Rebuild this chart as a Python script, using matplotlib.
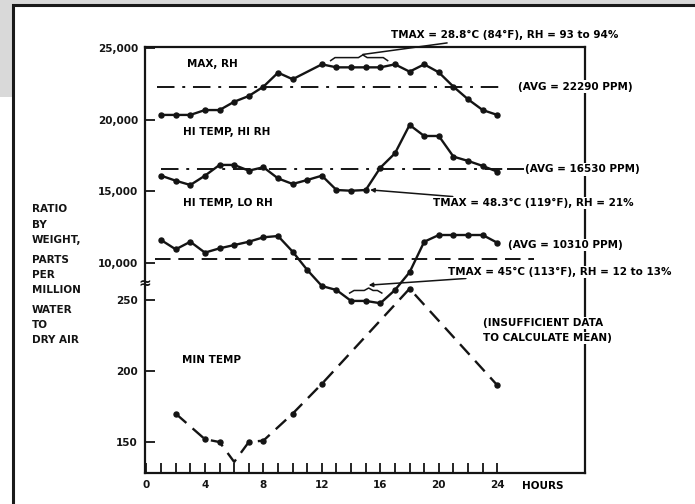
import matplotlib
matplotlib.use('Agg')
import matplotlib.pyplot as plt
from matplotlib.patches import Rectangle
from matplotlib.transforms import blended_transform_factory

plt.rcParams['font.family'] = ['DejaVu Sans']
plt.rcParams['font.weight'] = 'bold'
plt.rcParams['font.size'] = 7.5

INK = '#141414'

# ---- data (hours vs ppm) ----
max_rh_hours = [1, 2, 3, 4, 5, 6, 7, 8, 9, 10, 12, 13, 14, 15, 16, 17, 18, 19, 20, 21, 22, 23, 24]
max_rh_ppm = [20330, 20330, 20330, 20670, 20670, 21250, 21650, 22300, 23280, 22820, 23860, 23650,
              23650, 23650, 23650, 23860, 23350, 23860, 23300, 22300, 21420, 20670, 20330]

hi_rh_hours = list(range(1, 25))
hi_rh_ppm = [16090, 15740, 15440, 16090, 16840, 16840, 16440, 16680, 15900, 15510, 15790, 16090,
             15090, 15040, 15090, 16650, 17650, 19630, 18860, 18860, 17420, 17120, 16770, 16370]

lo_rh_hours = list(range(1, 25))
lo_rh_ppm = [11600, 10950, 11480, 10720, 11020, 11250, 11480, 11790, 11880, 10790, 9510, 8390,
             8110, 7350, 7350, 7190, 8110, 9350, 11480, 11950, 11950, 11950, 11950, 11410]

min_temp_hours = [2, 4, 5, 6, 7, 8, 10, 12, 18, 24]
min_temp_ppm = [170, 152, 150, 136, 150, 151, 170, 191, 258, 190]
min_temp_marked = [0, 1, 2, 4, 5, 6, 7, 8, 9]   # no dot where the dashes meet

avg_ppm = [22290, 16530, 10310]
avg_span = [(0.7, 24.6), (1.0, 24.7), (0.6, 26.5)]
avg_labels = ['(AVG = 22290 PPM)', '(AVG = 16530 PPM)', '(AVG = 10310 PPM)']
avg_label_pos = [(25.4, 22290), (25.9, 16530), (24.75, 11250)]

upper_ticks = [10000, 15000, 20000, 25000]
upper_ticklabels = ['10,000', '15,000', '20,000', '25,000']
lower_ticks = [150, 200, 250]
hour_ticks = list(range(0, 25))
hour_labels = [str(h) if h % 4 == 0 else '' for h in hour_ticks]

ylabel_lines = ['RATIO', 'BY', 'WEIGHT,', 'PARTS', 'PER', 'MILLION', 'WATER', 'TO', 'DRY AIR']
ylabel_px = [209, 225, 240, 260, 275, 290, 310, 325, 340]

W, H = 695, 504
fig = plt.figure(figsize=(W / 100, H / 100), dpi=100)
fig.patch.set_facecolor('white')

# scan background: grey band on top, white page with black edge
fig.patches.append(Rectangle((0, 1 - 97 / H), 1, 97 / H, transform=fig.transFigure,
                             fc='#d9d9d9', ec='none', zorder=-10))
fig.patches.append(Rectangle((13 / W, -0.05), 1.2, 1 - 5 / H + 0.05, transform=fig.transFigure,
                             fc='white', ec='#1a1a1a', lw=2.2, zorder=-9))

ax1 = fig.add_axes([145 / W, 31 / H, 440 / W, 426 / H])
ax1.set_facecolor('none')
ax2 = ax1.twinx()

ax1.set_xlim(-0.1, 30.0)
ax1.set_ylim(-4658, 25070)
ax2.set_ylim(128.2, 428.2)

for sp in ax1.spines.values():
    sp.set_linewidth(1.6)
    sp.set_color(INK)
for sp in ax2.spines.values():
    sp.set_visible(False)

# ---- curves ----
line_kw = dict(color=INK, lw=1.7, marker='o', ms=3.6, solid_joinstyle='round')
ax1.plot(max_rh_hours, max_rh_ppm, **line_kw)
ax1.plot(hi_rh_hours, hi_rh_ppm, **line_kw)
ax1.plot(lo_rh_hours, lo_rh_ppm, **line_kw)
ax2.plot(min_temp_hours, min_temp_ppm, color=INK, lw=1.7, ls=(0, (6, 3.5)),
         marker='o', ms=3.6, markevery=min_temp_marked)

avg_styles = [(0, (9, 4, 1.5, 4)), (0, (9, 4, 1.5, 4)), (0, (8, 4))]
for val, (x0, x1), st in zip(avg_ppm, avg_span, avg_styles):
    ax1.plot([x0, x1], [val, val], color=INK, lw=1.4, ls=st)
# the 16530 line runs solid into its label
ax1.plot([avg_span[1][1], avg_label_pos[1][0]], [avg_ppm[1], avg_ppm[1]], color=INK, lw=1.4)

box = dict(fc='white', ec='none', pad=1.0)
for lab, (x, y) in zip(avg_labels, avg_label_pos):
    ax1.text(x, y, lab, ha='left', va='center', bbox=box, zorder=4)

# curve names
ax1.text(2.8, 23880, 'MAX, RH', ha='left', va='center')
ax1.text(2.5, 19140, 'HI TEMP, HI RH', ha='left', va='center')
ax1.text(2.5, 14180, 'HI TEMP, LO RH', ha='left', va='center')
ax2.text(2.4, 208, 'MIN TEMP', ha='left', va='center')

ax1.text(23.0, 5810, '(INSUFFICIENT DATA', ha='left', va='center', bbox=box, zorder=4)
ax1.text(23.0, 4760, 'TO CALCULATE MEAN)', ha='left', va='center', bbox=box, zorder=4)

# TMAX notes with braces
brace_top_x = [12.6, 12.9, 14.5, 14.8, 15.1, 16.2, 16.5]
brace_top_y = [24120, 24330, 24330, 24520, 24330, 24330, 24120]
ax1.plot(brace_top_x, brace_top_y, color=INK, lw=1.1)
ax1.annotate('TMAX = 28.8°C (84°F), RH = 93 to 94%', xy=(14.8, 24550), xytext=(16.7, 25900),
             ha='left', va='center', annotation_clip=False,
             arrowprops=dict(arrowstyle='-', color=INK, lw=1.1, shrinkA=0, shrinkB=0))

ax1.annotate('TMAX = 48.3°C (119°F), RH = 21%', xy=(15.3, 15100), xytext=(19.6, 14180),
             ha='left', va='center', bbox=box, zorder=4,
             arrowprops=dict(arrowstyle='-|>', color=INK, lw=1.1, mutation_scale=6,
                             shrinkA=1, shrinkB=0))

brace_low_x = [13.9, 14.2, 14.9, 15.2, 15.5, 15.8, 16.1]
brace_low_y = [7900, 8080, 8080, 8250, 8080, 8080, 7900]
ax1.plot(brace_low_x, brace_low_y, color=INK, lw=1.1)
ax1.annotate('TMAX = 45°C (113°F), RH = 12 to 13%', xy=(15.2, 8450), xytext=(20.65, 9370),
             ha='left', va='center', bbox=box, zorder=4, annotation_clip=False,
             arrowprops=dict(arrowstyle='-|>', color=INK, lw=1.1, mutation_scale=6,
                             shrinkA=1, shrinkB=0))

# ---- ticks ----
ax1.set_xticks(hour_ticks)
ax1.set_xticklabels(hour_labels)
ax1.set_yticks(upper_ticks)
ax1.set_yticklabels(upper_ticklabels)
ax1.tick_params(axis='both', direction='in', length=7.5, width=1.3, color=INK,
                labelsize=7.5, labelcolor=INK)
ax1.tick_params(axis='x', pad=5)
ax1.tick_params(axis='y', pad=5)

ax2.yaxis.set_ticks_position('left')
ax2.yaxis.set_label_position('left')
ax2.set_yticks(lower_ticks)
ax2.set_yticklabels([str(t) for t in lower_ticks])
ax2.tick_params(axis='y', direction='in', length=7.5, width=1.3, color=INK,
                labelsize=7.5, labelcolor=INK, pad=5)

trans = blended_transform_factory(ax1.transData, ax1.transAxes)
ax1.text(25.7, -13 / 426, 'HOURS', transform=trans, ha='left', va='center')

# break mark on the axis
ax1.text(0, (473 - 283) / 426, '≈', transform=ax1.transAxes, ha='center', va='center',
         fontsize=11, color=INK)

for txt, py in zip(ylabel_lines, ylabel_px):
    fig.text(32 / W, 1 - py / H, txt, ha='left', va='center', color=INK)

fig.savefig('out.png', dpi=100)
